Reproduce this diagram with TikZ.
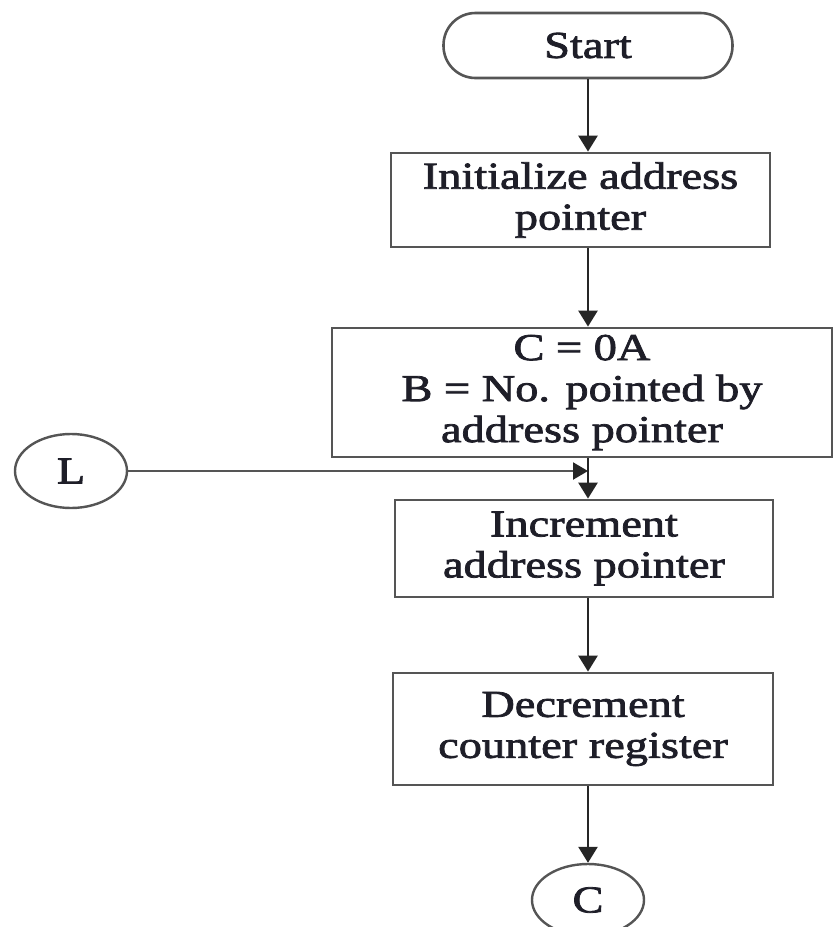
\documentclass[tikz,border=0pt]{standalone}
\usepackage{fontspec}
\setmainfont[FakeStretch=1.22,FakeBold=2]{Liberation Serif}
\usetikzlibrary{arrows.meta,shapes.geometric}
\definecolor{boxgray}{HTML}{555555}
\definecolor{inkdark}{HTML}{1E1E28}
\begin{document}
\begin{tikzpicture}[x=1pt,y=-1pt,
  every node/.style={font=\fontsize{38}{41}\selectfont, text=inkdark, inner sep=0pt},
  stepbox/.style={draw=boxgray, line width=2.8pt, rectangle, align=center},
  terminal/.style={draw=boxgray, line width=2.6pt, rectangle, rounded corners=32pt,
                   minimum width=289pt, minimum height=65pt},
  connector/.style={draw=boxgray, line width=2.4pt, ellipse,
                    minimum width=112pt, minimum height=74pt},
  flow/.style={draw=black!85, line width=2.6pt, -{Triangle[length=16pt,width=19pt]}},
]
\useasboundingbox (0,0) rectangle (835,927);

% main column of the flowchart
\coordinate (spine) at (588,0);
\node[terminal] (start) at (588,45.5) {Start};
\node[stepbox, minimum width=379pt, minimum height=94pt] (init) at (580.5,200)
  {Initialize address\\pointer};
\node[stepbox, minimum width=500pt, minimum height=129pt] (load) at (582,392.5)
  {C = 0A\\B = No. pointed by\\address pointer};
\node[stepbox, minimum width=378pt, minimum height=97pt] (incr) at (584,548.5)
  {Increment\\address pointer};
\node[stepbox, minimum width=380pt, minimum height=112pt] (decr) at (583,729)
  {Decrement\\counter register};

% off-page connectors
\node[connector] (L) at (71,471) {L};
\node[connector, minimum height=72pt] (C) at (588,900) {C};

% flow lines
\draw[flow] (start.south) -- (spine |- init.north);
\draw[flow] (spine |- init.south) -- (spine |- load.north);
\coordinate (join) at (spine |- L);
\draw[flow, draw=boxgray, line width=2.2pt,
      -{Triangle[length=15pt,width=17pt,color=black!85,fill=black!85]}] (L.east) -- (join);
\draw[flow] (spine |- load.south) -- (spine |- incr.north);
\draw[flow] (spine |- incr.south) -- (spine |- decr.north);
\draw[flow] (spine |- decr.south) -- (C.north);
\end{tikzpicture}
\end{document}
